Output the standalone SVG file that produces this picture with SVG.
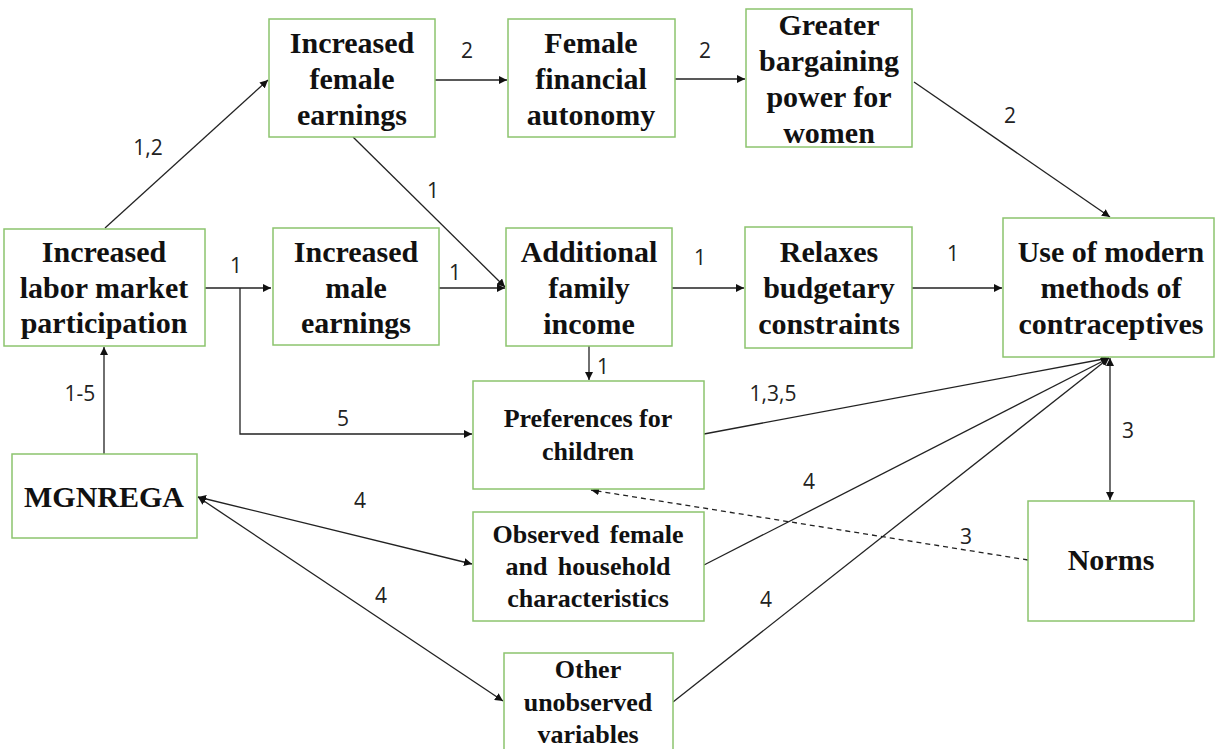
<svg xmlns="http://www.w3.org/2000/svg" width="1215" height="749" viewBox="0 0 1215 749">
<defs>
<marker id="ah" viewBox="0 0 10 10" refX="10" refY="5" markerWidth="8" markerHeight="8" markerUnits="userSpaceOnUse" orient="auto-start-reverse">
<path d="M0,0 L10,5 L0,10 z" fill="#111"/>
</marker>
<style>
.box{fill:#fff;stroke:#8cc46e;stroke-width:1.5}
.t{font-family:'Liberation Serif','DejaVu Serif',serif;font-weight:bold;font-size:30px;fill:#111;text-anchor:middle}
.s{font-size:26px}
.c{fill:none;stroke:#222;stroke-width:1.3}
.d{stroke-dasharray:5,4}
.l{font-family:'Open Sans','Liberation Sans',sans-serif;font-size:21px;fill:#222;text-anchor:middle}
</style>
</defs>
<rect width="1215" height="749" fill="#fff"/>
<g id="connectors">
<line class="c" x1="105" y1="228" x2="268" y2="80" marker-end="url(#ah)"/>
<line class="c" x1="435" y1="80" x2="507" y2="80" marker-end="url(#ah)"/>
<line class="c" x1="675" y1="79" x2="745" y2="79" marker-end="url(#ah)"/>
<line class="c" x1="914" y1="82" x2="1110" y2="217" marker-end="url(#ah)"/>
<line class="c" x1="353" y1="137" x2="505" y2="287" marker-end="url(#ah)"/>
<line class="c" x1="205" y1="288" x2="271" y2="288" marker-end="url(#ah)"/>
<polyline class="c" points="240,288 240,434 472,434" marker-end="url(#ah)"/>
<line class="c" x1="439" y1="288" x2="505" y2="288" marker-end="url(#ah)"/>
<line class="c" x1="672" y1="288" x2="744" y2="288" marker-end="url(#ah)"/>
<line class="c" x1="912" y1="288" x2="1002" y2="288" marker-end="url(#ah)"/>
<line class="c" x1="589" y1="346" x2="589" y2="380" marker-end="url(#ah)"/>
<line class="c" x1="104" y1="454" x2="104" y2="347" marker-end="url(#ah)"/>
<line class="c" x1="704" y1="434" x2="1109" y2="358" marker-end="url(#ah)"/>
<line class="c" x1="704" y1="565" x2="1109" y2="358" marker-end="url(#ah)"/>
<line class="c" x1="673" y1="702" x2="1109" y2="358" marker-end="url(#ah)"/>
<line class="c" x1="1110" y1="358" x2="1110" y2="500" marker-start="url(#ah)" marker-end="url(#ah)"/>
<line class="c d" x1="1028" y1="560" x2="591" y2="490" marker-end="url(#ah)"/>
<line class="c" x1="198" y1="497" x2="472" y2="564" marker-start="url(#ah)" marker-end="url(#ah)"/>
<line class="c" x1="198" y1="497" x2="503" y2="701" marker-start="url(#ah)" marker-end="url(#ah)"/>
<text class="l" x="148" y="155">1,2</text>
<text class="l" x="467" y="58">2</text>
<text class="l" x="705" y="58">2</text>
<text class="l" x="1010" y="123">2</text>
<text class="l" x="433" y="198">1</text>
<text class="l" x="236" y="273">1</text>
<text class="l" x="455" y="280">1</text>
<text class="l" x="700" y="265">1</text>
<text class="l" x="953" y="261">1</text>
<text class="l" x="603" y="374">1</text>
<text class="l" x="80" y="401">1-5</text>
<text class="l" x="343" y="426">5</text>
<text class="l" x="773" y="401">1,3,5</text>
<text class="l" x="809" y="489">4</text>
<text class="l" x="766" y="607">4</text>
<text class="l" x="1128" y="438">3</text>
<text class="l" x="966" y="544">3</text>
<text class="l" x="360" y="508">4</text>
<text class="l" x="381" y="603">4</text>
</g>
<g id="n-female-earnings">
<rect class="box" x="269" y="19" width="166" height="118"/>
<text class="t" x="352" y="53">Increased</text>
<text class="t" x="352" y="89">female</text>
<text class="t" x="352" y="125">earnings</text>
</g>
<g id="n-fin-autonomy">
<rect class="box" x="508" y="19" width="167" height="118"/>
<text class="t" x="591" y="53">Female</text>
<text class="t" x="591" y="89">financial</text>
<text class="t" x="591" y="125">autonomy</text>
</g>
<g id="n-bargaining">
<rect class="box" x="746" y="9" width="166" height="138"/>
<text class="t" x="829" y="35">Greater</text>
<text class="t" x="829" y="71">bargaining</text>
<text class="t" x="829" y="107">power for</text>
<text class="t" x="829" y="143">women</text>
</g>
<g id="n-labor">
<rect class="box" x="4" y="229" width="201" height="117"/>
<text class="t" x="104" y="262">Increased</text>
<text class="t" x="104" y="298">labor market</text>
<text class="t" x="104" y="333">participation</text>
</g>
<g id="n-male-earnings">
<rect class="box" x="273" y="228" width="166" height="117"/>
<text class="t" x="356" y="262">Increased</text>
<text class="t" x="356" y="298">male</text>
<text class="t" x="356" y="333">earnings</text>
</g>
<g id="n-family-income">
<rect class="box" x="506" y="228" width="166" height="118"/>
<text class="t" x="589" y="262">Additional</text>
<text class="t" x="589" y="298">family</text>
<text class="t" x="589" y="334">income</text>
</g>
<g id="n-budget">
<rect class="box" x="745" y="227" width="167" height="121"/>
<text class="t" x="829" y="262">Relaxes</text>
<text class="t" x="829" y="298">budgetary</text>
<text class="t" x="829" y="334">constraints</text>
</g>
<g id="n-contraceptives">
<rect class="box" x="1003" y="218" width="211" height="139"/>
<text class="t" x="1111" y="262">Use of modern</text>
<text class="t" x="1111" y="298">methods of</text>
<text class="t" x="1111" y="334">contraceptives</text>
</g>
<g id="n-preferences">
<rect class="box" x="473" y="381" width="231" height="108"/>
<text class="t s" x="588" y="427">Preferences for</text>
<text class="t s" x="588" y="460">children</text>
</g>
<g id="n-mgnrega">
<rect class="box" x="12" y="454" width="185" height="84"/>
<text class="t" x="104" y="507">MGNREGA</text>
</g>
<g id="n-observed">
<rect class="box" x="473" y="512" width="231" height="109"/>
<text class="t s" x="588" y="543" word-spacing="4">Observed female</text>
<text class="t s" x="588" y="575" word-spacing="4">and household</text>
<text class="t s" x="588" y="607">characteristics</text>
</g>
<g id="n-norms">
<rect class="box" x="1028" y="501" width="166" height="120"/>
<text class="t" x="1111" y="570">Norms</text>
</g>
<g id="n-unobserved">
<rect class="box" x="504" y="653" width="169" height="110"/>
<text class="t s" x="588" y="678">Other</text>
<text class="t s" x="588" y="711">unobserved</text>
<text class="t s" x="588" y="743">variables</text>
</g>
</svg>
